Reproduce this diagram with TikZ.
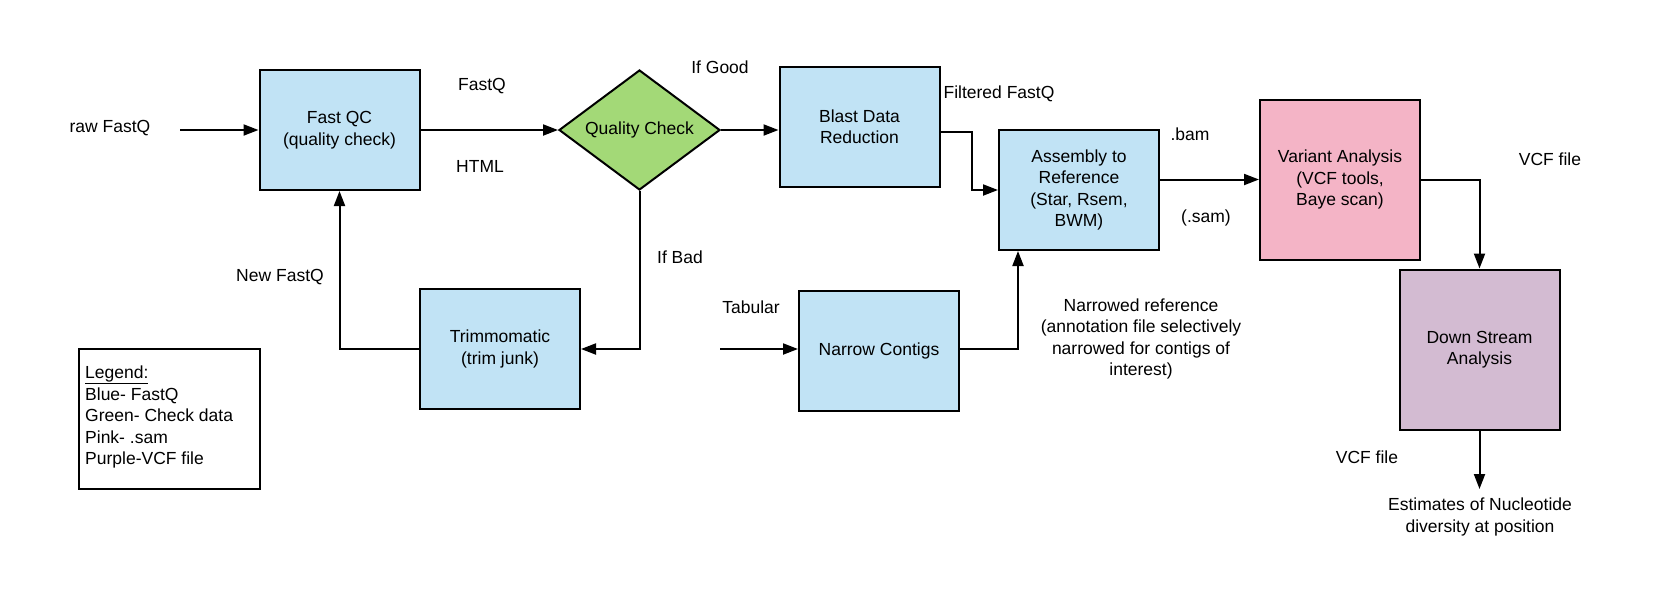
\documentclass[tikz,border=0pt]{standalone}
\usepackage{fontspec}
\setmainfont{Liberation Sans}
\usetikzlibrary{arrows.meta,shapes.geometric}
\definecolor{qblue}{RGB}{193,227,245}
\definecolor{qgreen}{RGB}{163,217,119}
\definecolor{qpink}{RGB}{244,180,198}
\definecolor{qpurple}{RGB}{211,187,210}
\begin{document}
\begin{tikzpicture}[x=1pt,y=-1pt,
  every node/.style={font=\fontsize{17.5}{21.5}\selectfont},
  proc/.style={draw=black, line width=2pt, align=center, inner sep=0pt,
    minimum width=160pt, minimum height=120pt, fill=qblue},
  bigproc/.style={proc, minimum height=160pt},
  lbl/.style={align=center, inner sep=0pt},
  arr/.style={line width=2pt, -{Triangle[length=15pt,width=11pt]}},
  conn/.style={line width=2pt}]
\useasboundingbox (0,0) rectangle (1660,590);
% nodes
\node[proc] (fastqc) at (339.5,130) {Fast QC\\(quality check)};
\node[diamond, draw=black, line width=2pt, fill=qgreen, aspect=1.34,
  inner sep=0pt, minimum width=161pt, minimum height=120pt] (qc) at (639.5,130) {Quality Check};
\node[proc] (blast) at (859.5,126.5) {Blast Data\\Reduction};
\node[proc] (assembly) at (1079,190) {Assembly to\\Reference\\(Star, Rsem,\\BWM)};
\node[bigproc, fill=qpink] (variant) at (1340,179.5) {Variant Analysis\\(VCF tools,\\Baye scan)};
\node[bigproc, fill=qpurple] (down) at (1479.5,349.5) {Down Stream\\Analysis};
\node[proc] (trim) at (500,349) {Trimmomatic\\(trim junk)};
\node[proc] (narrow) at (879,351) {Narrow Contigs};
\node[draw=black, line width=2pt, minimum width=181pt, minimum height=140pt, inner sep=0pt] (legendbox) at (169.5,419) {};
\node[lbl, align=left, anchor=west] (legend) at (85,417) {\underline{Legend:}\\Blue- FastQ\\Green- Check data\\Pink- .sam\\Purple-VCF file};
% labels
\node[lbl] (lraw) at (110,128) {raw FastQ};
\node[lbl] (lfastq) at (482,86) {FastQ};
\node[lbl] (lhtml) at (480,166) {HTML};
\node[lbl] (lgood) at (720,67) {If Good};
\node[lbl] (lfilt) at (999,94) {Filtered FastQ};
\node[lbl] (lbam) at (1190,134) {.bam};
\node[lbl] (lsam) at (1206,218) {(.sam)};
\node[lbl] (lvcf1) at (1550,159) {VCF file};
\node[lbl] (lvcf2) at (1367,457) {VCF file};
\node[lbl] (lest) at (1480,517) {Estimates of Nucleotide\\diversity at position};
\node[lbl] (lbad) at (680,257) {If Bad};
\node[lbl] (lnew) at (280,277) {New FastQ};
\node[lbl] (ltab) at (751,307) {Tabular};
\node[lbl] (lnarrow) at (1141,339) {Narrowed reference\\(annotation file selectively\\narrowed for contigs of\\interest)};
% free ends
\coordinate (rawstart) at (180,130);
\coordinate (tabstart) at (720,349);
\coordinate (estin) at (1479.5,489);
% connectors
\draw[arr] (rawstart) -- (fastqc.west);
\draw[arr] (fastqc.east) -- (qc.west);
\draw[arr] (qc.east) -- (qc.east -| blast.west);
\draw[arr] ([yshift=-5pt]blast.east) -- ++(31,0) |- (assembly.west);
\draw[arr] (assembly.east |- variant.west) -- (variant.west);
\draw[arr] (variant.east) -| (down.north);
\draw[arr] (down.south) -- (estin);
\draw[arr] (qc.south) |- (trim.east);
\draw[arr] (trim.west) -| (fastqc.south);
\draw[arr] (tabstart) -- (tabstart -| narrow.west);
\draw[arr] ([yshift=2pt]narrow.east) -| ([xshift=-61pt]assembly.south);
\end{tikzpicture}
\end{document}
